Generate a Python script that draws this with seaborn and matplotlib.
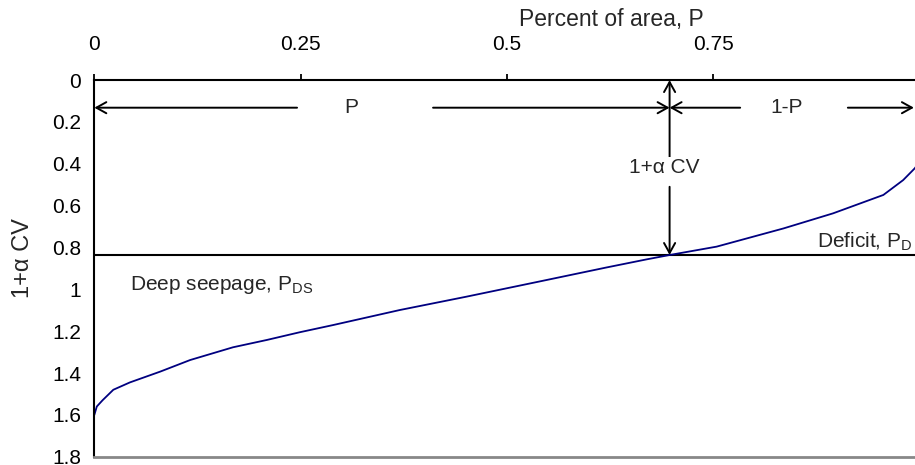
import matplotlib
matplotlib.use("Agg")
import matplotlib.pyplot as plt
import seaborn as sns
import pandas as pd

# Cumulative distribution of 1 + alpha*CV over the field area
percent_area = [0.0, 0.003, 0.01, 0.023, 0.043, 0.080, 0.116, 0.168, 0.209, 0.249,
                0.289, 0.370, 0.451, 0.540, 0.620, 0.669, 0.697, 0.754, 0.835,
                0.895, 0.956, 0.980, 0.994, 1.0]
one_plus_acv = [1.60, 1.56, 1.53, 1.48, 1.445, 1.393, 1.338, 1.277, 1.242, 1.205,
                1.171, 1.099, 1.035, 0.962, 0.896, 0.857, 0.836, 0.796, 0.709,
                0.637, 0.549, 0.478, 0.422, 0.39]

# Threshold level and the area fraction where the curve crosses it
threshold = 0.836
p_cross = 0.697

x_ticks = [0, 0.25, 0.5, 0.75]
x_tick_labels = ["0", "0.25", "0.5", "0.75"]
y_ticks = [0, 0.2, 0.4, 0.6, 0.8, 1.0, 1.2, 1.4, 1.6, 1.8]
y_tick_labels = ["0", "0.2", "0.4", "0.6", "0.8", "1", "1.2", "1.4", "1.6", "1.8"]

sns.set_style("white")
plt.rcParams["font.family"] = ["Liberation Sans", "DejaVu Sans"]
plt.rcParams["mathtext.fontset"] = "custom"
plt.rcParams["mathtext.rm"] = "Liberation Sans"

df = pd.DataFrame({"P": percent_area, "v": one_plus_acv})

fig = plt.figure(figsize=(9.15, 4.65), dpi=100)
ax = fig.add_axes([0.1031, 0.0178, 0.902, 0.810])

sns.lineplot(data=df, x="P", y="v", ax=ax, color="#000080", linewidth=1.3,
             estimator=None, sort=False)

ax.set_xlim(0, 1)
ax.set_ylim(1.8, 0)

ax.xaxis.set_ticks_position("top")
ax.xaxis.set_label_position("top")
ax.set_xticks(x_ticks)
ax.set_xticklabels(x_tick_labels)
ax.set_yticks(y_ticks)
ax.set_yticklabels(y_tick_labels)
ax.tick_params(axis="x", direction="out", length=4.5, width=1.3, pad=14,
               labelsize=15, colors="black")
ax.tick_params(axis="y", direction="out", length=4.5, width=1.3, pad=5,
               labelsize=15, colors="black")
ax.set_xlabel("")
ax.set_ylabel("")

for side in ("top", "left"):
    ax.spines[side].set_visible(True)
    ax.spines[side].set_color("black")
    ax.spines[side].set_linewidth(1.5)
ax.spines["bottom"].set_color("#888888")
ax.spines["bottom"].set_linewidth(2.0)
ax.spines["right"].set_visible(False)

# Threshold line
ax.axhline(threshold, color="black", linewidth=1.5, zorder=1)

arrow_kw = dict(arrowstyle="->,head_length=0.45,head_width=0.25", color="black",
                lw=1.4, shrinkA=0, shrinkB=0, mutation_scale=16)

def arrow(tip, tail):
    ax.annotate("", xy=tip, xytext=tail, xycoords="data", textcoords="data",
                arrowprops=arrow_kw, annotation_clip=False)

y_arr = 0.132
# P span
arrow((0.0, y_arr), (0.2456, y_arr))
arrow((p_cross, y_arr), (0.4104, y_arr))
ax.text(0.311, y_arr, "P", ha="center", va="center", fontsize=15)
# 1-P span
arrow((p_cross, y_arr), (0.7825, y_arr))
arrow((0.993, y_arr), (0.913, y_arr))
ax.text(0.839, y_arr, "1-P", ha="center", va="center", fontsize=15)
# 1+alpha CV height
arrow((p_cross, 0.0), (p_cross, 0.382))
arrow((p_cross, threshold), (p_cross, 0.51))
ax.text(0.691, 0.418, "1+\u03b1 CV", ha="center", va="center", fontsize=15,
        bbox=dict(facecolor="white", edgecolor="none", pad=0.5))

ax.text(0.0435, 0.98, r"Deep seepage, P$\mathregular{_{DS}}$", ha="left",
        va="center", fontsize=15)
ax.text(0.875, 0.775, r"Deficit, P$\mathregular{_{D}}$", ha="left",
        va="center", fontsize=15)

fig.text(0.668, 0.957, "Percent of area, P", ha="center", va="center", fontsize=16.5)
fig.text(0.0246, 0.445, "1+\u03b1 CV", ha="center", va="center", rotation=90,
         fontsize=17)

fig.savefig("out.png", dpi=100)
